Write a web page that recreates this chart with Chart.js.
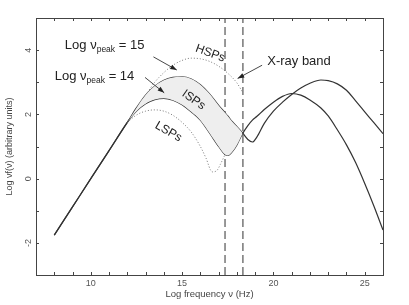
<!DOCTYPE html>
<html>
<head>
<meta charset="utf-8">
<script src="https://cdn.jsdelivr.net/npm/chart.js@4.4.1/dist/chart.umd.min.js"></script>
<style>
    body { margin: 0; background: #fff; }
</style>
</head>
<body>
<canvas id="sed" width="409" height="305"></canvas>
<script>
"use strict";

// Frekvenser (log Hz) för de två heldragna kurvorna
const freq = [8, 9, 10, 11, 12, 12.5, 13, 13.5, 14, 14.5, 15, 15.5, 16, 16.5, 17, 17.35, 17.5, 17.75, 18, 18.3,
    18.6, 18.85, 19.1, 19.5, 20, 20.5, 21, 21.5, 22, 22.6, 23, 23.5, 24, 24.5, 25, 25.5, 26];
// Log nu_peak = 15
const ispHigh = [-1.76, -0.88, 0, 0.87, 1.75, 2.2, 2.6, 2.88, 3.06, 3.15, 3.17, 3.1, 2.92, 2.64, 2.28, 2.05, 1.95, 1.77, 1.62, 1.43,
    1.22, 1.14, 1.3, 1.72, 2.1, 2.38, 2.62, 2.82, 2.97, 3.07, 3.05, 2.95, 2.75, 2.42, 2.08, 1.74, 1.4];
// Log nu_peak = 14
const ispLow = [-1.76, -0.88, 0, 0.87, 1.75, 2.1, 2.33, 2.46, 2.5, 2.44, 2.3, 2.08, 1.82, 1.42, 1.0, 0.75, 0.72, 0.84, 1.05, 1.39,
    1.65, 1.82, 1.94, 2.15, 2.38, 2.56, 2.65, 2.6, 2.45, 2.2, 1.95, 1.52, 1.05, 0.5, -0.15, -0.85, -1.6];

// HSP (prickad)
const hspFreq = [13.1, 13.5, 14, 14.5, 15, 15.5, 16, 16.5, 17, 17.5, 18, 18.3];
const hspFlux = [2.68, 3.0, 3.3, 3.53, 3.68, 3.75, 3.73, 3.65, 3.5, 3.28, 2.98, 2.7];

// LSP (prickad)
const lspFreq = [12, 12.5, 13, 13.5, 14, 14.5, 15, 15.5, 16, 16.3, 16.65, 16.9, 17.1, 17.35];
const lspFlux = [1.75, 1.98, 2.1, 2.14, 2.1, 1.97, 1.75, 1.45, 1.0, 0.65, 0.21, 0.25, 0.45, 0.75];

// Röntgenbandets gränser
const xrayBand = [17.35, 18.33];

const xTickLabels = [10, 15, 20, 25];
const yTickLabels = [-2, 0, 2, 4];

const FONT = "'Liberation Sans', Arial, sans-serif";

function toPoints(xs, ys) {
    return xs.map((x, i) => ({ x: x, y: ys[i] }));
}

function inBand(points) {
    return points.filter(p => p.x >= 12 && p.x <= 18.3);
}

// Ram runt diagrammet och tickmarkeringar inåt
const framePlugin = {
    id: "frame",
    afterDraw(chart) {
        const { ctx, chartArea: a, scales: { x, y } } = chart;
        ctx.save();
        ctx.strokeStyle = "#444";
        ctx.lineWidth = 1;
        ctx.strokeRect(a.left + 0.5, a.top + 0.5, a.right - a.left, a.bottom - a.top);
        ctx.beginPath();
        x.ticks.forEach(t => {
            const px = Math.round(x.getPixelForValue(t.value)) + 0.5;
            ctx.moveTo(px, a.bottom);
            ctx.lineTo(px, a.bottom - 3);
            ctx.moveTo(px, a.top);
            ctx.lineTo(px, a.top + 3);
        });
        y.ticks.forEach(t => {
            const py = Math.round(y.getPixelForValue(t.value)) + 0.5;
            ctx.moveTo(a.left, py);
            ctx.lineTo(a.left + 3, py);
            ctx.moveTo(a.right, py);
            ctx.lineTo(a.right - 3, py);
        });
        ctx.stroke();

        // roterade y-etiketter
        ctx.fillStyle = "#555";
        ctx.font = "9px " + FONT;
        ctx.textAlign = "center";
        ctx.textBaseline = "middle";
        yTickLabels.forEach(v => {
            ctx.save();
            ctx.translate(29, y.getPixelForValue(v));
            ctx.rotate(-Math.PI / 2);
            ctx.fillText(String(v), 0, 0);
            ctx.restore();
        });
        ctx.restore();
    }
};

// Texter och pilar
const notePlugin = {
    id: "notes",
    afterDatasetsDraw(chart) {
        const { ctx, scales: { x, y } } = chart;
        const px = v => x.getPixelForValue(v);
        const py = v => y.getPixelForValue(v);

        function arrow(x0, y0, x1, y1) {
            const ax = px(x0), ay = py(y0), bx = px(x1), by = py(y1);
            const ang = Math.atan2(by - ay, bx - ax);
            ctx.beginPath();
            ctx.moveTo(ax, ay);
            ctx.lineTo(bx, by);
            ctx.stroke();
            ctx.beginPath();
            ctx.moveTo(bx, by);
            ctx.lineTo(bx - 7 * Math.cos(ang - 0.35), by - 7 * Math.sin(ang - 0.35));
            ctx.lineTo(bx - 7 * Math.cos(ang + 0.35), by - 7 * Math.sin(ang + 0.35));
            ctx.closePath();
            ctx.fill();
        }

        function peakLabel(xv, yv, num) {
            let cx = px(xv);
            const cy = py(yv);
            ctx.textAlign = "left";
            ctx.textBaseline = "middle";
            ctx.font = "13px " + FONT;
            ctx.fillText("Log \u03bd", cx, cy);
            cx += ctx.measureText("Log \u03bd").width;
            ctx.font = "8.5px " + FONT;
            ctx.fillText("peak", cx, cy + 5);
            cx += ctx.measureText("peak").width;
            ctx.font = "13px " + FONT;
            ctx.fillText(" = " + num, cx, cy);
        }

        function tilted(text, xv, yv, deg) {
            ctx.save();
            ctx.translate(px(xv), py(yv));
            ctx.rotate(deg * Math.PI / 180);
            ctx.font = "12px " + FONT;
            ctx.textAlign = "center";
            ctx.textBaseline = "middle";
            ctx.fillText(text, 0, 0);
            ctx.restore();
        }

        ctx.save();
        ctx.fillStyle = "#222";
        ctx.strokeStyle = "#333";
        ctx.lineWidth = 0.9;

        peakLabel(8.58, 4.16, 15);
        peakLabel(8.03, 3.19, 14);
        arrow(13.43, 3.79, 14.71, 3.38);
        arrow(12.97, 3.15, 14.02, 2.67);

        ctx.font = "13px " + FONT;
        ctx.textAlign = "left";
        ctx.textBaseline = "middle";
        ctx.fillText("X-ray band", px(19.66), py(3.66));
        arrow(19.38, 3.53, 18.04, 3.12);

        tilted("HSPs", 16.54, 3.9, 20);
        tilted("ISPs", 15.63, 2.45, 35);
        tilted("LSPs", 14.25, 1.46, 30);
        ctx.restore();
    }
};

const solid = {
    borderColor: "#333",
    borderWidth: 1.2,
    pointRadius: 0,
    fill: false,
    cubicInterpolationMode: "monotone"
};

const dotted = {
    borderColor: "#777",
    borderWidth: 1,
    borderDash: [1, 2],
    pointRadius: 0,
    fill: false,
    cubicInterpolationMode: "monotone"
};

const dashed = {
    borderColor: "#444",
    borderWidth: 1.1,
    borderDash: [8, 4],
    pointRadius: 0,
    fill: false,
    tension: 0
};

new Chart(document.getElementById("sed"), {
    type: "line",
    data: {
        datasets: [
            {
                data: inBand(toPoints(freq, ispHigh)),
                borderWidth: 0,
                pointRadius: 0,
                backgroundColor: "#eeeeee",
                fill: "+1",
                cubicInterpolationMode: "monotone"
            },
            {
                data: inBand(toPoints(freq, ispLow)),
                borderWidth: 0,
                pointRadius: 0,
                fill: false,
                cubicInterpolationMode: "monotone"
            },
            { ...dotted, data: toPoints(hspFreq, hspFlux) },
            { ...dotted, data: toPoints(lspFreq, lspFlux) },
            { ...solid, data: toPoints(freq, ispHigh) },
            { ...solid, data: toPoints(freq, ispLow) },
            ...xrayBand.map(v => ({ ...dashed, data: [{ x: v, y: -3 }, { x: v, y: 5 }] }))
        ]
    },
    options: {
        responsive: false,
        animation: false,
        layout: { padding: { left: 0, right: 26, top: 18, bottom: 0 } },
        plugins: {
            legend: { display: false },
            tooltip: { enabled: false }
        },
        scales: {
            x: {
                type: "linear",
                min: 7,
                max: 26,
                afterFit: s => { s.height = 30; },
                grid: { drawOnChartArea: false, drawTicks: false },
                border: { display: false },
                ticks: {
                    stepSize: 1,
                    autoSkip: false,
                    maxRotation: 0,
                    padding: 3,
                    color: "#555",
                    font: { family: FONT, size: 9 },
                    callback: v => xTickLabels.includes(v) ? String(v) : ""
                },
                title: {
                    display: true,
                    text: "Log frequency \u03bd (Hz)",
                    color: "#444",
                    font: { family: FONT, size: 9.5 },
                    padding: { top: 0, bottom: 5 }
                }
            },
            y: {
                type: "linear",
                min: -3,
                max: 5,
                afterFit: s => { s.width = 36; },
                grid: { drawOnChartArea: false, drawTicks: false },
                border: { display: false },
                ticks: { stepSize: 1, display: false },
                title: {
                    display: true,
                    text: "Log \u03bdf(\u03bd) (arbitrary units)",
                    color: "#444",
                    font: { family: FONT, size: 9 },
                    padding: { top: 4, bottom: 0 }
                }
            }
        }
    },
    plugins: [framePlugin, notePlugin]
});
</script>
</body>
</html>
